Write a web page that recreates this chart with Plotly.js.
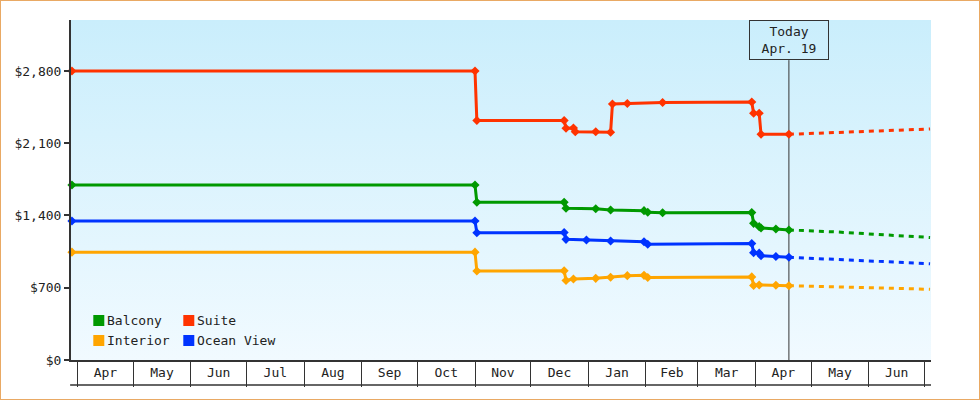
<!DOCTYPE html>
<html><head><meta charset="utf-8">
<script src="https://cdn.plot.ly/plotly-3.0.1.min.js"></script>
<style>
html,body{margin:0;padding:0;background:#fff;}
#wrap{position:relative;width:980px;height:400px;overflow:hidden;background:#fff;}
#bg{position:absolute;left:71px;top:20px;width:860px;height:340px;background:linear-gradient(to bottom,#caeefc,#f1faff);}
#chart{position:absolute;left:0;top:0;width:980px;height:400px;}
#frame{position:absolute;left:0;top:0;width:980px;height:400px;box-sizing:border-box;border:1px solid #e9a964;pointer-events:none;}
</style></head>
<body><div id="wrap"><div id="bg"></div><div id="chart"></div><div id="frame"></div></div>
<script>
// ---- data ----
const seriesNames = ['Balcony', 'Suite', 'Interior', 'Ocean View'];
const seriesColors = ['#009900', '#ff3300', '#ffa500', '#0033ff'];

const balconyDates = ['2024-03-29','2024-11-01','2024-11-02','2024-12-19','2024-12-20','2025-01-05','2025-01-13','2025-01-31','2025-02-02','2025-02-10','2025-03-30','2025-03-31','2025-04-03','2025-04-04','2025-04-12','2025-04-19'];
const balconyPrices = [1695,1695,1528,1528,1470,1466,1453,1447,1431,1427,1428,1324,1292,1279,1269,1260];

const suiteDates = ['2024-03-29','2024-11-01','2024-11-02','2024-12-19','2024-12-20','2024-12-24','2024-12-25','2025-01-05','2025-01-13','2025-01-14','2025-01-22','2025-02-10','2025-03-30','2025-03-31','2025-04-03','2025-04-04','2025-04-19'];
const suitePrices = [2800,2800,2320,2320,2245,2248,2212,2212,2206,2480,2485,2495,2500,2390,2390,2187,2187];

const interiorDates = ['2024-03-29','2024-11-01','2024-11-02','2024-12-19','2024-12-20','2024-12-24','2025-01-05','2025-01-13','2025-01-22','2025-01-31','2025-02-02','2025-03-30','2025-03-31','2025-04-03','2025-04-12','2025-04-19'];
const interiorPrices = [1045,1045,862,865,770,785,791,801,817,820,800,805,722,727,724,720];

const oceanDates = ['2024-03-29','2024-11-01','2024-11-02','2024-12-19','2024-12-20','2024-12-31','2025-01-13','2025-01-31','2025-02-02','2025-03-30','2025-03-31','2025-04-03','2025-04-04','2025-04-12','2025-04-19'];
const oceanPrices = [1347,1347,1233,1235,1169,1163,1153,1146,1122,1128,1040,1035,1010,1003,995];

const forecastDates = ['2025-04-19','2025-05-15','2025-06-10','2025-07-04'];
const balconyForecast = [1260,1240,1212,1187];
const suiteForecast = [2187,2203,2220,2238];
const interiorForecast = [720,712,697,685];
const oceanForecast = [995,976,953,933];

const todayDate = '2025-04-19';
const todayLabel = 'Today<br>Apr. 19';
const xRange = ['2024-03-28 12:00', '2025-07-04 12:00'];
const yTickStep = 700;

// ---- traces ----
const hist = [
  [balconyDates, balconyPrices, balconyForecast],
  [suiteDates, suitePrices, suiteForecast],
  [interiorDates, interiorPrices, interiorForecast],
  [oceanDates, oceanPrices, oceanForecast]
];
const traces = [];
hist.forEach((h, i) => {
  traces.push({
    type:'scatter', mode:'lines', x: forecastDates, y: h[2], name: seriesNames[i] + ' forecast',
    line:{color: seriesColors[i], width:3, dash:'5px,5px'},
    showlegend:false, cliponaxis:false
  });
});
hist.forEach((h, i) => {
  traces.push({
    type:'scatter', mode:'lines+markers', x: h[0], y: h[1], name: seriesNames[i],
    line:{color: seriesColors[i], width:3},
    marker:{symbol:'diamond', size:7, color: seriesColors[i]},
    showlegend:false, cliponaxis:false
  });
});

// ---- legend drawn as swatches + labels (2 columns, 2 rows) ----
const plotL = 71, plotT = 20, plotW = 860, plotH = 340;
const px2x = p => (p - plotL) / plotW;
const px2y = p => (plotT + plotH - p) / plotH;
const legShapes = [], legAnn = [];
seriesNames.forEach((n, i) => {
  const col = i % 2, row = Math.floor(i / 2);
  const sx = 93.3 + col * 90, sy = 315 + row * 20;
  legShapes.push({type:'rect', xref:'paper', yref:'paper', x0:px2x(sx), x1:px2x(sx + 11), y0:px2y(sy + 11), y1:px2y(sy),
                  fillcolor: seriesColors[i], line:{width:0}});
  legAnn.push({xref:'paper', yref:'paper', x:px2x(sx + 13), y:px2y(sy + 5.7), xanchor:'left', yanchor:'middle',
               text:n, showarrow:false, borderpad:0, font:{size:13, color:'#222'}});
});

const layout = {
  width:980, height:400,
  margin:{l:71, r:49, t:20, b:40, pad:0},
  paper_bgcolor:'rgba(0,0,0,0)', plot_bgcolor:'rgba(0,0,0,0)',
  font:{family:'DejaVu Sans Mono, monospace', size:13, color:'#222'},
  showlegend:false,
  xaxis:{type:'date', range:xRange, showgrid:false, zeroline:false, showline:true, linecolor:'#333', linewidth:2,
         ticks:'outside', ticklen:25, tickwidth:1, tickcolor:'#333', dtick:'M1', tick0:'2024-04-01',
         tickformat:'%b', ticklabelmode:'period', ticklabelstandoff:-26, fixedrange:true},
  yaxis:{range:[0,3294], dtick:yTickStep, tick0:0, tickprefix:'$', tickformat:',d', showgrid:false, zeroline:false,
         showline:true, linecolor:'#333', linewidth:2, ticks:'outside', ticklen:5, tickwidth:2, tickcolor:'#333', fixedrange:true},
  shapes:[
    {type:'line', xref:'x', yref:'paper', x0:todayDate, x1:todayDate, y0:0, y1:0.882, line:{color:'#333', width:1}, layer:'below'},
    {type:'line', xref:'paper', yref:'paper', x0:-0.001, x1:1, y0:-25/340, y1:-25/340, line:{color:'#333', width:1.5}}
  ].concat(legShapes),
  annotations:[
    {x:todayDate, xref:'x', y:1, yref:'paper', yanchor:'top', xanchor:'center', text:todayLabel, showarrow:false,
     bordercolor:'#333', borderwidth:1, borderpad:0, width:78, height:38, bgcolor:'rgba(0,0,0,0)',
     font:{size:13, color:'#222'}}
  ].concat(legAnn)
};
Plotly.newPlot('chart', traces, layout, {displayModeBar:false, staticPlot:true});
</script>
</body></html>
